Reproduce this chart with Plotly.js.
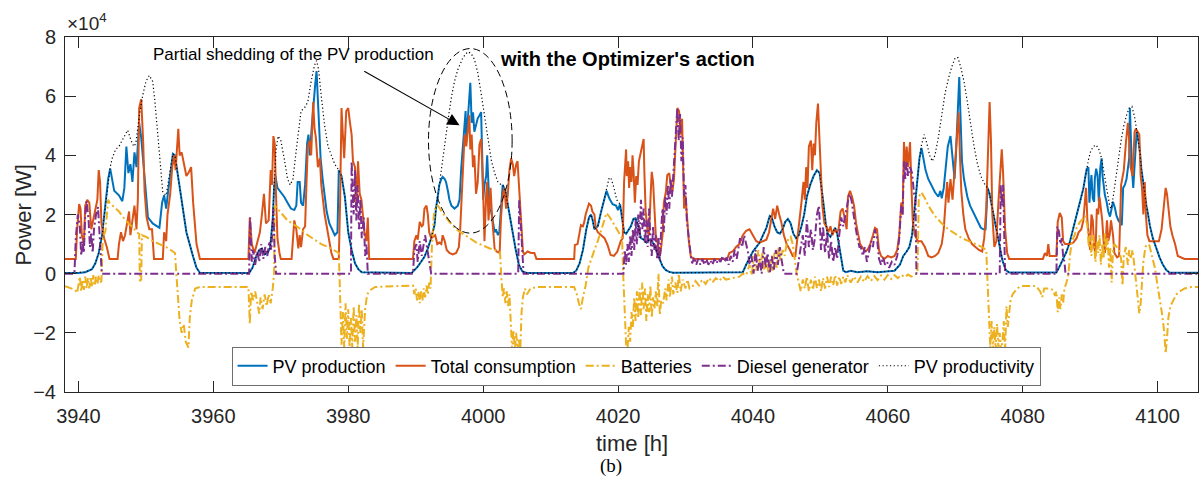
<!DOCTYPE html>
<html><head><meta charset="utf-8">
<script src="https://cdn.plot.ly/plotly-3.0.1.min.js"></script>
<style>html,body{margin:0;padding:0;background:#fff}#chart{width:1200px;height:477px}</style>
</head><body><div id="chart"></div>
<script>
// values: [time (h), power (x10^4 W)]
const pvProduction = [[3938,0.02],[3940,0.02],[3941,0.05],[3942,0.15],[3942.5,0.35],[3943,0.7],[3943.5,1.3],[3944,2.3],[3944.4,3.2],[3944.7,3.55],[3945,3.2],[3945.3,2.8],[3946,2.65],[3946.5,2.45],[3946.8,2.9],[3947.1,4.3],[3947.4,3.4],[3947.7,3.7],[3948,3.1],[3948.3,4.1],[3948.6,3.6],[3949,5.1],[3949.3,4.6],[3949.6,3.9],[3949.9,3.0],[3950.3,1.9],[3951,1.7],[3952,1.55],[3952.4,2.4],[3952.7,2.65],[3953,2.2],[3953.3,2.8],[3953.7,3.6],[3954,4.05],[3954.3,4.0],[3954.8,3.2],[3955.2,2.5],[3956,1.4],[3957,0.57],[3957.5,0.2],[3958,0.03],[3965.3,0.02],[3965.8,0.2],[3966.3,0.55],[3966.8,0.8],[3967.2,0.85],[3967.6,0.65],[3968,0.7],[3968.4,0.85],[3968.8,1.8],[3969,2.9],[3969.2,3.3],[3969.5,2.9],[3970,2.75],[3970.5,2.6],[3971,2.4],[3971.5,2.2],[3972,2.15],[3972.3,2.3],[3972.5,3.1],[3972.8,3.1],[3973,2.4],[3973.3,2.3],[3973.6,3.0],[3973.9,4.4],[3974.1,4.7],[3974.3,4.0],[3974.6,5.0],[3974.9,6.0],[3975.1,6.4],[3975.3,6.85],[3975.5,5.8],[3975.7,4.4],[3975.9,3.9],[3976.2,3.2],[3976.5,2.7],[3976.8,2.1],[3977.2,1.7],[3977.6,1.5],[3978,1.3],[3978.4,1.4],[3978.6,3.5],[3979,3.3],[3979.5,2.6],[3980,1.4],[3980.5,0.8],[3981,0.35],[3981.5,0.15],[3982,0.05],[3989.4,0.02],[3990.3,0.24],[3990.8,0.4],[3991.3,0.57],[3991.8,0.85],[3992.3,1.2],[3992.8,1.65],[3993,2.2],[3993.3,2.65],[3993.5,3.0],[3993.8,3.2],[3994,3.27],[3994.3,3.2],[3994.5,3.1],[3994.8,2.77],[3995,2.5],[3995.3,2.3],[3995.75,2.2],[3996.25,2.3],[3996.5,2.5],[3996.75,3.55],[3997,4.2],[3997.2,4.7],[3997.4,5.5],[3997.5,4.45],[3997.7,5.25],[3997.9,5.8],[3998.1,6.45],[3998.3,5.1],[3998.5,5.45],[3998.7,4.8],[3998.95,5.0],[3999.2,5.25],[3999.45,5.35],[3999.7,5.46],[3999.85,4.1],[4000,2.5],[4000.2,3.0],[4000.45,3.3],[4000.6,4.0],[4000.8,3.1],[4000.95,2.2],[4001.2,2.1],[4001.4,1.75],[4001.7,1.4],[4001.9,1.5],[4002.2,1.3],[4002.4,1.4],[4002.7,2.3],[4002.9,3.0],[4003.3,2.8],[4003.8,2.2],[4004.3,1.5],[4004.8,0.85],[4005.3,0.3],[4005.8,0.08],[4006.5,0.02],[4013.3,0.02],[4013.8,0.1],[4014.3,0.35],[4014.8,0.8],[4015.3,1.5],[4015.7,1.9],[4016,2.0],[4016.25,1.8],[4016.5,1.5],[4017,1.6],[4017.5,2.1],[4018,2.6],[4018.3,2.8],[4018.7,2.55],[4019.2,2.35],[4019.7,2.3],[4020,2.15],[4020.3,2.35],[4020.6,1.9],[4020.9,1.4],[4021.2,1.35],[4021.5,1.45],[4021.9,1.6],[4022.3,1.85],[4022.6,1.87],[4023,1.6],[4023.4,1.2],[4023.8,1.15],[4024.2,1.05],[4024.6,1.15],[4025,1.1],[4025.4,0.95],[4025.8,0.7],[4026.2,0.45],[4026.6,0.25],[4027.1,0.12],[4027.6,0.06],[4028.2,0.03],[4038.5,0.05],[4039,0.3],[4039.5,0.55],[4040,0.75],[4040.5,0.9],[4041,1.05],[4041.5,1.3],[4042,1.55],[4042.5,1.95],[4042.8,1.9],[4043.2,1.6],[4043.6,1.4],[4044,1.35],[4044.4,1.5],[4044.8,1.75],[4045.2,1.85],[4045.6,1.7],[4046,1.35],[4046.4,1.2],[4046.8,1.3],[4047.2,1.6],[4047.6,2.0],[4048,2.6],[4048.5,3.0],[4049,3.3],[4049.5,3.5],[4049.9,3.4],[4050.2,2.9],[4050.5,2.3],[4050.8,1.7],[4051.1,1.35],[4051.5,1.25],[4051.9,1.45],[4052.2,1.55],[4052.5,1.35],[4052.8,0.9],[4053.1,0.4],[4053.4,0.1],[4053.8,0.05],[4054.5,0.1],[4055.5,0.05],[4057,0.08],[4058.5,0.05],[4060,0.08],[4061,0.1],[4061.8,0.3],[4062.3,0.6],[4062.8,0.75],[4063.2,0.9],[4063.6,1.3],[4063.9,2.0],[4064.1,2.7],[4064.4,3.3],[4064.7,3.9],[4065,4.25],[4065.3,3.8],[4065.6,3.5],[4066,3.2],[4066.5,2.95],[4067,2.75],[4067.5,2.6],[4067.8,2.8],[4068,2.55],[4068.3,2.9],[4068.6,3.6],[4068.9,4.3],[4069.3,4.65],[4069.6,3.9],[4069.9,3.2],[4070.1,4.0],[4070.4,5.6],[4070.6,6.65],[4070.8,5.2],[4071,3.8],[4071.3,3.2],[4071.8,2.6],[4072.2,2.3],[4072.6,2.1],[4073,1.9],[4073.4,1.7],[4073.8,1.55],[4074.2,1.5],[4074.5,1.5],[4074.8,2.9],[4075.1,2.7],[4075.5,2.2],[4076,1.6],[4076.5,1.0],[4077,0.45],[4077.5,0.12],[4078,0.04],[4085,0.04],[4085.3,0.15],[4085.6,0.3],[4086,0.5],[4086.5,0.74],[4087,1.08],[4087.5,1.53],[4088,1.97],[4088.5,2.43],[4089,2.88],[4089.25,3.22],[4089.5,3.55],[4089.75,3.6],[4089.9,2.4],[4090,2.77],[4090.2,3.33],[4090.4,2.55],[4090.6,2.43],[4090.7,3.2],[4090.9,3.55],[4091.1,3.33],[4091.3,2.43],[4091.5,3.55],[4091.7,3.9],[4091.85,3.3],[4092.05,2.9],[4092.2,2.65],[4092.45,2.43],[4092.7,2.1],[4092.95,1.93],[4093.2,2.2],[4093.4,2.43],[4093.7,2.2],[4093.9,1.97],[4094.2,1.8],[4094.4,1.75],[4094.7,1.64],[4094.9,2.9],[4095.15,3.0],[4095.4,3.2],[4095.6,3.65],[4095.8,3.9],[4095.9,5.6],[4096,4.9],[4096.2,3.55],[4096.4,2.9],[4096.6,3.55],[4096.9,4.8],[4097.1,4.6],[4097.4,4.1],[4097.6,3.55],[4097.85,3.1],[4098.1,2.65],[4098.35,2.3],[4098.6,2.0],[4098.85,1.64],[4099.3,1.2],[4099.8,0.85],[4100.3,0.55],[4100.8,0.3],[4101.3,0.12],[4101.8,0.03],[4106,0.03]];

const totalConsumption = [[3938,0.5],[3939.6,0.5],[3939.8,1.5],[3940.1,2.35],[3940.3,2.2],[3940.5,1.3],[3940.8,1.0],[3941,2.3],[3941.3,2.5],[3941.6,2.4],[3941.9,1.5],[3942.2,1.8],[3942.5,2.2],[3942.8,2.5],[3943,3.5],[3943.2,3.1],[3943.4,1.7],[3943.8,1.2],[3944.2,0.9],[3944.6,0.5],[3945.8,0.5],[3946,1.0],[3946.3,1.4],[3946.6,1.1],[3946.9,1.3],[3947.2,1.7],[3947.5,2.1],[3947.7,1.3],[3948,1.8],[3948.3,2.3],[3948.6,1.5],[3948.8,2.5],[3949,5.6],[3949.3,5.9],[3949.6,4.4],[3949.8,2.8],[3950.1,1.9],[3950.5,1.5],[3950.9,1.5],[3951.2,0.5],[3952.5,0.5],[3952.7,1.4],[3953,1.1],[3953.2,2.0],[3953.6,2.7],[3953.9,3.6],[3954.2,4.0],[3954.4,3.5],[3954.8,4.9],[3955,4.0],[3955.3,4.1],[3955.7,3.7],[3956,3.3],[3956.3,3.4],[3956.7,3.6],[3957,2.4],[3957.5,1.0],[3958,0.5],[3965.2,0.5],[3965.4,1.9],[3965.7,1.0],[3966.1,0.7],[3966.5,1.1],[3966.9,1.4],[3967.2,2.0],[3967.5,2.7],[3967.8,1.7],[3968.2,1.8],[3968.5,3.5],[3968.7,3.0],[3968.9,4.65],[3969.1,4.4],[3969.3,2.6],[3969.5,1.2],[3969.8,0.7],[3970,0.5],[3971.6,0.5],[3971.8,1.3],[3972,1.8],[3972.3,1.5],[3972.6,0.85],[3972.8,1.3],[3973,0.9],[3973.3,1.5],[3973.6,1.6],[3973.8,3.0],[3974,4.3],[3974.3,4.5],[3974.5,4.0],[3974.8,5.8],[3975,4.9],[3975.2,4.6],[3975.5,3.6],[3975.8,3.9],[3976,3.0],[3976.5,2.0],[3977,1.4],[3977.5,0.7],[3977.8,0.5],[3978.6,0.5],[3978.8,2.5],[3979,5.6],[3979.2,4.7],[3979.4,3.9],[3979.7,5.5],[3980,5.6],[3980.2,5.2],[3980.5,4.7],[3980.7,3.8],[3981,3.6],[3981.2,2.3],[3981.45,3.8],[3981.7,2.7],[3981.95,2.5],[3982.2,1.9],[3982.4,1.4],[3982.7,1.1],[3982.9,1.9],[3983.1,0.5],[3989.6,0.5],[3989.8,1.1],[3990.1,1.3],[3990.3,1.15],[3990.6,1.75],[3990.9,1.6],[3991.1,1.65],[3991.3,2.2],[3991.6,2.3],[3991.8,2.0],[3992,1.4],[3992.3,1.2],[3992.6,1.25],[3992.9,1.3],[3993.2,1.0],[3993.5,1.05],[3993.8,1.0],[3994,1.3],[3994.3,1.1],[3994.6,0.8],[3995,0.7],[3995.5,0.65],[3996,0.7],[3996.4,0.9],[3996.6,1.5],[3996.85,2.9],[3997,3.8],[3997.25,4.7],[3997.5,4.3],[3997.7,4.8],[3997.95,5.35],[3998.1,4.2],[3998.3,4.7],[3998.5,3.6],[3998.7,4.0],[3998.95,2.7],[3999.2,3.1],[3999.45,4.35],[3999.7,4.55],[3999.95,3.2],[4000.2,1.1],[4000.45,2.7],[4000.6,3.1],[4000.8,1.8],[4001.1,2.9],[4001.3,2.0],[4001.45,1.6],[4001.7,0.85],[4002,0.75],[4002.45,0.7],[4002.65,1.9],[4002.9,2.65],[4003.15,2.9],[4003.4,2.2],[4003.65,2.65],[4003.9,3.5],[4004.15,3.9],[4004.4,3.7],[4004.6,3.3],[4004.9,3.7],[4005.1,3.8],[4005.35,3.0],[4005.6,1.9],[4005.9,0.75],[4006.1,0.65],[4006.6,0.75],[4007.1,0.7],[4007.6,0.7],[4007.9,0.5],[4013.5,0.5],[4013.6,0.97],[4014,1.0],[4014.25,1.3],[4014.5,1.64],[4014.8,1.6],[4015,1.75],[4015.2,2.0],[4015.5,2.26],[4015.7,2.37],[4016,2.3],[4016.2,2.1],[4016.5,2.0],[4016.7,1.55],[4017,1.4],[4017.5,1.3],[4018,1.2],[4018.45,0.97],[4018.9,0.63],[4019.4,0.6],[4019.9,0.75],[4020.4,1.1],[4020.7,1.2],[4020.9,3.1],[4021.2,4.2],[4021.3,3.3],[4021.5,3.8],[4021.65,2.9],[4021.8,3.6],[4022,3.1],[4022.15,4.0],[4022.3,3.5],[4022.5,2.4],[4022.7,3.3],[4022.9,3.0],[4023.1,3.8],[4023.4,4.1],[4023.6,4.35],[4023.8,4.55],[4023.9,3.5],[4024.1,2.1],[4024.4,1.4],[4024.6,1.3],[4024.86,2.77],[4025,3.44],[4025.2,3.1],[4025.35,2.2],[4025.6,1.3],[4025.85,1.08],[4026.1,0.63],[4026.3,0.7],[4026.6,1.3],[4026.8,2.4],[4027.1,2.77],[4027.3,3.33],[4027.6,3.4],[4027.8,3.0],[4028.06,2.77],[4028.3,3.2],[4028.5,4.1],[4028.8,5.6],[4029.05,5.5],[4029.3,4.7],[4029.5,5.24],[4029.7,3.0],[4029.8,2.2],[4030,2.65],[4030.3,1.75],[4030.5,1.1],[4030.8,0.57],[4031.3,0.5],[4036.2,0.5],[4036.5,0.7],[4037,0.75],[4037.5,0.9],[4038,1.0],[4038.5,1.3],[4039,1.45],[4039.5,1.5],[4040,1.3],[4040.5,1.1],[4041,1.05],[4041.5,1.1],[4042,1.15],[4042.4,1.4],[4042.7,1.8],[4043,2.2],[4043.3,1.85],[4043.6,2.3],[4043.9,2.0],[4044.2,1.75],[4044.6,1.3],[4045,1.0],[4045.5,0.8],[4045.9,0.6],[4046.3,0.6],[4046.6,1.3],[4046.9,1.8],[4047.2,2.4],[4047.5,3.1],[4047.7,2.5],[4047.9,3.6],[4048.1,2.9],[4048.3,4.3],[4048.6,4.5],[4048.8,3.5],[4049,4.4],[4049.2,4.0],[4049.4,5.1],[4049.65,5.75],[4049.9,4.4],[4050.1,3.1],[4050.3,2.3],[4050.6,1.7],[4050.9,1.6],[4051.2,1.4],[4051.5,1.6],[4051.8,1.3],[4052.1,1.5],[4052.4,1.4],[4052.7,1.5],[4053,2.1],[4053.3,2.2],[4053.6,1.9],[4053.9,1.5],[4054.1,2.6],[4054.4,2.8],[4054.7,2.6],[4055,2.3],[4055.3,1.7],[4055.6,1.3],[4055.9,1.0],[4056.2,0.9],[4056.6,0.75],[4057,0.8],[4057.4,1.0],[4057.8,1.3],[4058.1,1.55],[4058.4,1.5],[4058.7,0.8],[4059,0.6],[4059.5,0.5],[4060,0.6],[4060.5,0.55],[4061,0.6],[4061.4,0.8],[4061.7,1.3],[4062,2.4],[4062.2,2.0],[4062.4,4.45],[4062.6,3.5],[4062.8,4.3],[4063,3.6],[4063.3,4.45],[4063.5,3.0],[4063.7,1.8],[4064,1.3],[4064.5,1.1],[4065,1.1],[4065.5,0.9],[4066,0.6],[4066.5,0.55],[4067,0.6],[4067.5,0.7],[4068,1.0],[4068.3,1.5],[4068.6,2.5],[4068.8,3.1],[4069,2.4],[4069.3,3.2],[4069.6,2.5],[4069.9,3.5],[4070.2,4.2],[4070.5,5.45],[4070.7,4.0],[4070.9,2.8],[4071.2,2.0],[4071.5,1.5],[4072,1.2],[4072.5,1.0],[4073,0.9],[4073.5,0.8],[4074,0.75],[4074.3,1.2],[4074.6,2.2],[4074.8,3.5],[4075.1,5.8],[4075.3,4.5],[4075.5,2.0],[4075.8,0.9],[4076.1,1.1],[4076.4,2.4],[4076.7,3.6],[4076.9,4.2],[4077.1,3.4],[4077.4,1.5],[4077.7,0.7],[4078,0.5],[4083,0.5],[4083.3,0.7],[4083.6,0.6],[4083.8,1.0],[4084,0.6],[4085,0.6],[4085.2,1.75],[4085.5,2.05],[4085.8,1.9],[4086,1.1],[4086.3,1.0],[4087,1.0],[4087.5,1.05],[4088,1.2],[4088.3,1.4],[4088.7,1.5],[4089,1.8],[4089.2,2.5],[4089.4,2.9],[4089.6,1.8],[4089.8,1.2],[4090,0.8],[4090.2,2.0],[4090.4,1.8],[4090.6,0.9],[4090.8,0.7],[4091,2.2],[4091.2,2.0],[4091.4,2.6],[4091.6,2.2],[4091.8,1.8],[4092,1.1],[4092.2,0.7],[4092.5,1.8],[4092.7,1.1],[4092.9,1.3],[4093.1,1.8],[4093.4,1.3],[4093.6,0.7],[4094,0.55],[4094.3,0.6],[4094.6,3.0],[4094.8,3.3],[4095,3.5],[4095.3,4.4],[4095.6,5.1],[4095.8,4.5],[4096,3.6],[4096.3,3.3],[4096.6,4.8],[4096.8,4.9],[4097.1,4.8],[4097.3,4.7],[4097.5,3.3],[4097.7,2.9],[4097.9,2.0],[4098.1,3.1],[4098.3,1.9],[4098.5,1.3],[4098.8,1.1],[4099.5,1.1],[4100.2,1.1],[4100.6,1.5],[4100.9,2.2],[4101.2,2.9],[4101.4,2.7],[4101.6,2.2],[4101.9,1.6],[4102.2,1.3],[4102.6,1.0],[4103,0.6],[4103.5,0.55],[4104,0.5],[4106,0.5]];

const batteries = [[3938,-0.42],[3939.5,-0.55],[3939.8,-0.65],[3940,-0.4],[3940.2,-0.1],[3940.4,-0.6],[3940.6,-0.2],[3940.8,-0.55],[3941,-0.1],[3941.2,-0.5],[3941.4,-0.15],[3941.6,-0.5],[3941.8,-0.1],[3942,-0.45],[3942.2,-0.05],[3942.4,-0.4],[3942.6,-0.1],[3942.8,-0.35],[3943,-0.05],[3943.2,-0.3],[3943.4,-0.25],[3943.6,1.2],[3944,1.45],[3944.4,2.5],[3944.6,2.4],[3946,2.1],[3947,1.8],[3948.3,1.5],[3948.6,1.4],[3949,1.35],[3949.1,-0.25],[3949.3,-0.2],[3949.4,1.3],[3950,1.25],[3951,1.1],[3952,1.0],[3953,0.9],[3954,0.75],[3954.3,0.7],[3954.6,-0.3],[3955,-1.6],[3955.3,-2.0],[3955.6,-1.7],[3955.9,-2.3],[3956.3,-2.5],[3956.5,-1.5],[3956.8,-0.9],[3957.3,-0.5],[3958,-0.45],[3965.2,-0.45],[3965.4,-1.7],[3965.6,-0.6],[3965.9,-0.9],[3966.2,-0.6],[3966.5,-1.0],[3966.8,-1.35],[3967,-0.8],[3967.3,-1.2],[3967.6,-0.7],[3967.9,-1.1],[3968.2,-0.7],[3968.5,-1.0],[3968.8,-0.5],[3969,0.0],[3969.1,2.3],[3969.5,2.2],[3970,2.05],[3971,1.8],[3972,1.65],[3973,1.5],[3974,1.3],[3975,1.15],[3976,1.0],[3977,0.9],[3978,0.78],[3978.6,0.7],[3978.8,-0.8],[3979,-2.4],[3979.2,-1.3],[3979.4,-2.5],[3979.6,-1.0],[3979.8,-2.2],[3980,-1.2],[3980.2,-2.5],[3980.4,-1.5],[3980.6,-2.5],[3980.8,-1.1],[3981,-2.3],[3981.2,-1.4],[3981.4,-2.5],[3981.6,-1.0],[3981.8,-2.0],[3982,-1.2],[3982.2,-2.5],[3982.5,-1.2],[3982.8,-0.7],[3983.3,-0.55],[3984,-0.45],[3989.6,-0.4],[3989.8,-0.7],[3990,-0.5],[3990.2,-0.9],[3990.4,-0.6],[3990.6,-1.0],[3990.8,-0.6],[3991,-0.9],[3991.2,-0.5],[3991.4,-0.8],[3991.6,-0.4],[3991.8,-0.7],[3992,-0.3],[3992.2,-0.5],[3992.4,0.9],[3992.7,2.0],[3993,2.3],[3993.3,2.3],[3994,2.05],[3995,1.75],[3996,1.5],[3997,1.35],[3998,1.2],[3999,1.05],[4000,0.95],[4001,0.85],[4002,0.78],[4002.5,0.72],[4002.7,-0.1],[4002.9,-0.8],[4003.1,-0.5],[4003.3,-1.0],[4003.5,-0.6],[4003.7,-1.1],[4003.9,-0.7],[4004.1,-2.0],[4004.3,-2.6],[4004.5,-1.9],[4004.7,-2.6],[4004.9,-2.0],[4005.1,-2.6],[4005.3,-2.2],[4005.5,-2.65],[4005.7,-1.3],[4005.9,-0.8],[4006.2,-0.5],[4006.5,-0.7],[4007,-0.5],[4008,-0.45],[4013.5,-0.45],[4013.9,-0.7],[4014.2,-1.0],[4014.5,-1.2],[4014.8,-0.8],[4015.2,-0.4],[4015.6,0.2],[4016,0.5],[4016.5,0.8],[4017,1.1],[4017.5,1.5],[4018,1.9],[4018.3,2.05],[4018.8,1.9],[4019.3,1.7],[4019.8,1.5],[4020.3,1.3],[4020.6,1.2],[4020.8,-0.2],[4021,-1.5],[4021.2,-2.4],[4021.4,-2.6],[4021.6,-1.8],[4021.8,-2.3],[4022,-1.3],[4022.2,-1.8],[4022.4,-0.8],[4022.6,-1.6],[4022.8,-0.6],[4023,-1.5],[4023.2,-0.5],[4023.4,-1.4],[4023.6,-0.3],[4023.8,-1.2],[4024,-0.5],[4024.2,-1.6],[4024.4,-0.7],[4024.6,-1.3],[4024.8,-0.4],[4025,-1.5],[4025.2,-0.8],[4025.4,-1.2],[4025.6,-0.6],[4025.8,-1.1],[4026,0.0],[4026.2,-1.4],[4026.4,-0.9],[4026.7,-1.0],[4027,-0.5],[4027.2,-0.9],[4027.5,-0.2],[4027.7,-0.8],[4028,-0.1],[4028.2,-0.7],[4028.5,-0.3],[4028.8,-0.65],[4029,0.0],[4029.3,-0.6],[4029.6,-0.2],[4030,-0.5],[4030.3,-0.2],[4030.6,-0.5],[4031,-0.45],[4031.5,-0.25],[4032,-0.4],[4032.5,-0.2],[4033,-0.35],[4033.5,-0.15],[4034,-0.3],[4034.5,-0.15],[4035,-0.25],[4035.5,-0.1],[4036,-0.2],[4037,-0.15],[4038,-0.1],[4038.5,0.0],[4039,-0.05],[4039.5,0.3],[4039.8,-0.05],[4040.2,0.6],[4040.5,0.1],[4040.8,0.8],[4041.1,0.2],[4041.4,0.7],[4041.7,0.1],[4042,0.6],[4042.3,0.0],[4042.6,0.5],[4042.9,0.1],[4043.2,0.7],[4043.5,0.2],[4043.8,0.9],[4044.1,0.4],[4044.4,0.8],[4044.7,0.6],[4045,1.0],[4045.3,1.2],[4045.6,1.25],[4045.9,1.0],[4046.2,0.5],[4046.5,0.0],[4046.8,-0.3],[4047.1,-0.6],[4047.4,-0.2],[4047.7,-0.5],[4048,-0.1],[4048.3,-0.6],[4048.6,-0.2],[4048.9,-0.55],[4049.2,-0.1],[4049.5,-0.5],[4049.8,-0.2],[4050.1,-0.6],[4050.4,-0.15],[4050.7,-0.5],[4051,-0.1],[4051.3,-0.45],[4051.6,-0.1],[4051.9,-0.4],[4052.2,-0.05],[4052.5,-0.4],[4052.8,-0.1],[4053.1,-0.35],[4053.4,-0.1],[4053.7,-0.3],[4054,-0.05],[4054.5,-0.3],[4055,-0.1],[4055.5,-0.3],[4056,-0.1],[4056.5,-0.28],[4057,-0.08],[4057.5,-0.25],[4058,-0.08],[4058.5,-0.22],[4059,-0.06],[4059.5,-0.2],[4060,-0.05],[4060.5,-0.18],[4061,-0.05],[4061.5,-0.15],[4062,-0.04],[4062.5,-0.12],[4063,-0.03],[4063.5,-0.1],[4064,-0.03],[4064.4,0.0],[4064.6,2.6],[4065,2.75],[4065.5,2.55],[4066,2.3],[4067,1.95],[4068,1.7],[4069,1.5],[4070,1.35],[4071,1.2],[4072,1.1],[4073,1.0],[4074,0.9],[4074.6,0.8],[4074.8,-0.5],[4075,-1.5],[4075.2,-2.5],[4075.4,-1.6],[4075.6,-2.6],[4075.8,-1.8],[4076,-2.6],[4076.2,-1.7],[4076.4,-2.5],[4076.6,-2.0],[4076.8,-2.6],[4077,-2.3],[4077.2,-1.6],[4077.4,-2.6],[4077.6,-1.1],[4077.8,-1.8],[4078,-1.2],[4078.2,-0.9],[4078.5,-0.7],[4079,-0.55],[4079.5,-0.45],[4080,-0.42],[4082,-0.42],[4082.6,-0.6],[4082.9,-0.8],[4083.2,-0.5],[4084,-0.5],[4084.5,-0.55],[4084.8,-0.75],[4085,-0.6],[4085.2,-1.3],[4085.4,-0.8],[4085.6,-1.2],[4085.8,-0.7],[4086,-1.0],[4086.2,-0.5],[4086.5,-0.3],[4086.8,0.0],[4087,0.6],[4087.3,1.1],[4087.7,1.3],[4088,1.55],[4088.5,1.75],[4089,1.9],[4089.3,1.95],[4089.6,1.6],[4089.8,0.9],[4090,1.3],[4090.2,0.6],[4090.4,1.3],[4090.6,1.0],[4090.8,0.4],[4091,1.1],[4091.2,0.7],[4091.4,1.3],[4091.6,0.3],[4091.8,1.0],[4092,0.5],[4092.2,1.4],[4092.4,0.8],[4092.6,1.2],[4092.8,0.2],[4093,0.9],[4093.2,-0.3],[4093.4,0.8],[4093.6,1.0],[4094,0.9],[4094.3,0.8],[4094.6,0.5],[4094.8,-0.4],[4095,0.6],[4095.3,0.9],[4095.6,0.3],[4095.8,0.8],[4096,0.5],[4096.3,0.8],[4096.6,0.2],[4096.9,-0.5],[4097.1,-0.9],[4097.3,-1.35],[4097.5,-1.0],[4097.7,-0.3],[4097.9,0.4],[4098.2,0.9],[4098.5,1.0],[4098.8,0.95],[4099.2,0.6],[4099.6,0.2],[4100,-0.4],[4100.4,-0.9],[4100.7,-1.4],[4101,-2.0],[4101.2,-2.7],[4101.4,-2.2],[4101.6,-1.5],[4101.9,-1.1],[4102.3,-0.9],[4102.8,-0.7],[4103.3,-0.6],[4104,-0.5],[4105,-0.45],[4106,-0.45]];

const dieselGenerator = [[3938,0],[3939.4,0],[3939.6,1.2],[3939.9,2.0],[3940.2,1.6],[3940.4,0.6],[3940.6,1.1],[3940.8,0.7],[3941,2.0],[3941.2,2.45],[3941.5,1.8],[3941.7,0.9],[3941.9,1.4],[3942.1,0.7],[3942.3,1.5],[3942.6,2.0],[3942.9,2.25],[3943.1,1.4],[3943.3,0.6],[3943.45,0],[3965.3,0],[3965.45,1.9],[3965.7,0.4],[3965.9,0.8],[3966.2,0.3],[3966.5,0.75],[3966.8,0.4],[3967.1,1.0],[3967.4,0.5],[3967.7,0.9],[3968,0.6],[3968.3,1.1],[3968.6,0.8],[3968.9,2.2],[3969.1,0.6],[3969.3,0],[3980.4,0],[3980.5,3.8],[3980.8,2.0],[3981,3.5],[3981.2,1.8],[3981.4,3.0],[3981.6,1.5],[3981.8,2.5],[3982,1.2],[3982.3,1.9],[3982.5,0.6],[3982.7,1.0],[3982.9,0],[3989.6,0],[3989.8,0.8],[3990.1,1.0],[3990.3,0.4],[3990.6,1.1],[3990.9,0.6],[3991.1,0.9],[3991.4,1.3],[3991.6,1.0],[3991.9,0.6],[3992.1,0.3],[3992.3,0],[4005.2,0],[4005.35,2.5],[4005.6,1.6],[4005.8,0.7],[4006,0],[4020.8,0],[4021,0.8],[4021.2,0.3],[4021.4,1.0],[4021.6,0.4],[4021.8,1.3],[4022,0.6],[4022.2,1.5],[4022.4,0.8],[4022.6,1.8],[4022.8,1.0],[4023,2.0],[4023.2,1.2],[4023.4,2.5],[4023.6,1.5],[4023.8,2.2],[4024,1.0],[4024.2,1.8],[4024.4,0.9],[4024.6,2.2],[4024.8,1.2],[4025,0.6],[4025.2,1.6],[4025.4,0.8],[4025.6,1.3],[4025.8,0.5],[4026,1.2],[4026.2,0.4],[4026.4,1.5],[4026.6,2.2],[4026.8,1.4],[4027,2.6],[4027.2,2.0],[4027.4,3.0],[4027.6,2.2],[4027.8,3.2],[4028,2.6],[4028.2,3.4],[4028.4,4.1],[4028.6,4.8],[4028.8,5.6],[4029,4.5],[4029.2,5.4],[4029.4,3.8],[4029.6,4.6],[4029.8,2.6],[4030,3.0],[4030.2,1.8],[4030.4,1.4],[4030.6,0.9],[4030.8,0.6],[4031,0.35],[4031.3,0.55],[4031.6,0.3],[4031.9,0.5],[4032.2,0.3],[4032.5,0.5],[4032.8,0.3],[4033.1,0.5],[4033.4,0.3],[4033.7,0.45],[4034,0.3],[4034.3,0.5],[4034.6,0.35],[4034.9,0.5],[4035.2,0.4],[4035.5,0.6],[4035.8,0.4],[4036.1,0.55],[4036.4,0.3],[4036.7,0.6],[4037,0.4],[4037.3,0.8],[4037.6,0.5],[4037.9,0.9],[4038.1,1.2],[4038.4,0.9],[4038.7,1.3],[4039,1.0],[4039.3,0.7],[4039.5,0.3],[4039.8,0.6],[4040.1,0],[4040.4,0.8],[4040.7,0.1],[4041,0.5],[4041.3,0],[4041.6,0.9],[4041.9,0.2],[4042.2,0.7],[4042.5,0],[4042.8,0.6],[4043.1,0.1],[4043.4,0.8],[4043.7,0.3],[4044,0.9],[4044.3,0.4],[4044.6,0],[4046.5,0],[4046.8,0.5],[4047.1,0.9],[4047.4,1.3],[4047.7,0.6],[4048,1.8],[4048.3,0.9],[4048.6,1.5],[4048.9,0.8],[4049.2,1.2],[4049.5,2.0],[4049.8,2.3],[4050.1,0.8],[4050.4,1.6],[4050.7,0.7],[4051,1.4],[4051.3,0.5],[4051.6,1.1],[4051.9,0.4],[4052.2,0.9],[4052.5,0.5],[4052.8,1.3],[4053.1,1.9],[4053.4,1.6],[4053.7,2.0],[4054,2.4],[4054.3,2.7],[4054.6,2.5],[4054.9,2.0],[4055.2,1.6],[4055.5,1.2],[4055.8,0.9],[4056,0.9],[4056.3,0.6],[4056.6,0.9],[4056.9,0.4],[4057.2,0.7],[4057.5,1.1],[4057.8,0.9],[4058.1,1.5],[4058.4,1.2],[4058.7,0.5],[4059,0.3],[4059.3,0.55],[4059.6,0.3],[4059.9,0.4],[4060.2,0.2],[4060.6,0.4],[4061,0.3],[4061.4,0.6],[4061.7,1.2],[4062,2.3],[4062.2,2.0],[4062.4,3.8],[4062.6,3.2],[4062.8,3.8],[4063,3.3],[4063.3,3.6],[4063.6,3.4],[4063.9,2.7],[4064.1,2.6],[4064.25,0],[4076.6,0],[4076.75,3.0],[4076.9,2.3],[4077.1,3.0],[4077.3,1.0],[4077.4,0],[4085,0],[4085.15,1.6],[4085.4,1.4],[4085.6,1.0],[4085.8,1.2],[4086,0.6],[4086.2,0.4],[4086.35,0],[4106,0]];

const pvProductivity = [[3938,0.02],[3941,0.05],[3942,0.15],[3942.5,0.35],[3943,0.7],[3943.5,1.3],[3944,2.3],[3944.4,3.15],[3944.7,3.6],[3945,3.9],[3945.5,4.2],[3946,4.3],[3946.5,4.5],[3947,4.75],[3947.3,4.85],[3947.8,4.5],[3948.2,4.3],[3948.5,4.4],[3949,5.3],[3949.5,6.0],[3950,6.5],[3950.5,6.7],[3951,6.5],[3951.3,5.9],[3951.7,4.8],[3952.1,3.6],[3952.5,2.75],[3953,2.65],[3953.5,3.4],[3954,4.05],[3954.3,4.0],[3954.8,3.2],[3955.2,2.5],[3956,1.4],[3957,0.57],[3957.5,0.2],[3958,0.03],[3965.3,0.02],[3965.8,0.2],[3966.3,0.55],[3966.8,0.8],[3967.2,0.85],[3967.6,0.65],[3968,0.7],[3968.4,0.85],[3968.8,1.8],[3969,3.0],[3969.3,4.2],[3969.6,4.65],[3970,4.5],[3970.5,3.9],[3971,3.2],[3971.4,3.0],[3971.8,3.2],[3972.2,4.0],[3972.6,4.8],[3973,5.5],[3973.5,5.6],[3974,5.8],[3974.5,6.5],[3975,7.05],[3975.3,7.2],[3975.6,6.9],[3976,6.0],[3976.5,5.0],[3977,4.3],[3977.5,4.0],[3978,3.7],[3978.6,3.5],[3979,3.3],[3979.5,2.6],[3980,1.4],[3980.5,0.8],[3981,0.35],[3981.5,0.15],[3982,0.05],[3989.4,0.02],[3990.3,0.24],[3990.8,0.4],[3991.3,0.57],[3991.8,0.85],[3992.3,1.2],[3992.8,1.65],[3993,2.2],[3993.3,2.65],[3993.5,3.0],[3993.8,3.55],[3994,3.9],[3994.3,4.3],[3994.8,5.2],[3995.25,5.9],[3995.75,6.5],[3996.25,6.9],[3997,7.3],[3997.7,7.5],[3998.2,7.45],[3998.7,7.25],[3999.2,6.8],[3999.7,6.1],[4000.2,5.3],[4000.7,4.5],[4001.2,3.85],[4001.7,3.4],[4002.2,3.1],[4002.7,3.0],[4002.9,3.0],[4003.3,2.8],[4003.8,2.2],[4004.3,1.5],[4004.8,0.85],[4005.3,0.3],[4005.8,0.08],[4006.5,0.02],[4013.3,0.02],[4013.8,0.1],[4014.3,0.35],[4014.8,0.8],[4015.3,1.5],[4015.7,1.9],[4016,2.0],[4016.25,1.8],[4016.5,1.5],[4017,1.6],[4017.5,2.1],[4018,2.6],[4018.3,2.95],[4018.7,3.25],[4019,3.2],[4019.4,2.9],[4019.8,2.5],[4020.3,2.35],[4020.6,1.9],[4020.9,1.4],[4021.2,1.35],[4021.5,1.45],[4021.9,1.6],[4022.3,1.85],[4022.6,1.87],[4023,1.6],[4023.4,1.2],[4023.8,1.15],[4024.2,1.05],[4024.6,1.15],[4025,1.1],[4025.4,0.95],[4025.8,0.7],[4026.2,0.45],[4026.6,0.25],[4027.1,0.12],[4027.6,0.06],[4028.2,0.03],[4038.5,0.05],[4039,0.3],[4039.5,0.55],[4040,0.75],[4040.5,0.9],[4041,1.05],[4041.5,1.3],[4042,1.55],[4042.5,1.95],[4042.8,1.9],[4043.2,1.6],[4043.6,1.4],[4044,1.35],[4044.4,1.5],[4044.8,1.75],[4045.2,1.85],[4045.6,1.7],[4046,1.35],[4046.4,1.2],[4046.8,1.3],[4047.2,1.6],[4047.6,2.0],[4048,2.6],[4048.5,3.0],[4049,3.3],[4049.5,3.5],[4049.9,3.4],[4050.2,2.9],[4050.5,2.3],[4050.8,1.7],[4051.1,1.35],[4051.5,1.25],[4051.9,1.45],[4052.2,1.55],[4052.5,1.35],[4052.8,0.9],[4053.1,0.4],[4053.4,0.1],[4053.8,0.05],[4054.5,0.1],[4055.5,0.05],[4057,0.08],[4058.5,0.05],[4060,0.08],[4061,0.1],[4061.8,0.3],[4062.3,0.6],[4062.8,0.75],[4063.2,0.9],[4063.6,1.3],[4063.9,2.0],[4064.1,2.7],[4064.4,3.3],[4064.7,3.9],[4065,4.35],[4065.4,4.7],[4065.8,4.4],[4066.2,4.0],[4066.6,3.8],[4067,4.0],[4067.5,4.6],[4068,5.4],[4068.5,6.1],[4069,6.6],[4069.5,7.0],[4070,7.3],[4070.4,7.3],[4070.8,7.0],[4071.3,6.5],[4071.8,5.8],[4072.3,5.0],[4072.8,4.3],[4073.3,3.7],[4073.8,3.3],[4074.3,3.05],[4074.8,2.9],[4075.1,2.7],[4075.5,2.2],[4076,1.6],[4076.5,1.0],[4077,0.45],[4077.5,0.12],[4078,0.04],[4085,0.04],[4085.3,0.15],[4085.6,0.3],[4086,0.5],[4086.5,0.74],[4087,1.08],[4087.5,1.53],[4088,1.97],[4088.5,2.43],[4089,2.88],[4089.25,3.22],[4089.5,3.55],[4089.8,3.9],[4090.1,4.15],[4090.5,4.3],[4090.9,4.35],[4091.3,4.2],[4091.7,3.9],[4092.1,3.4],[4092.5,2.9],[4092.9,2.3],[4093.1,2.2],[4093.4,2.55],[4093.8,3.2],[4094.2,3.9],[4094.6,4.5],[4095,5.0],[4095.4,5.35],[4095.8,5.6],[4096.2,5.65],[4096.6,5.3],[4097,4.7],[4097.4,4.1],[4097.6,3.55],[4097.85,3.1],[4098.1,2.65],[4098.35,2.3],[4098.6,2.0],[4098.85,1.64],[4099.3,1.2],[4099.8,0.85],[4100.3,0.55],[4100.8,0.3],[4101.3,0.12],[4101.8,0.03],[4106,0.03]];

const seriesNames = ['PV production','Total consumption','Batteries','Diesel generator','PV productivity'];
const xTicks = [3940,3960,3980,4000,4020,4040,4060,4080,4100];
const yTicks = [-4,-2,0,2,4,6,8];

const xs = a => a.map(p => p[0]);
const ys = a => a.map(p => p[1]);

const traces = [
  {x: xs(pvProduction), y: ys(pvProduction), name: seriesNames[0], mode:'lines', line:{color:'#0072BD', width:2}},
  {x: xs(totalConsumption), y: ys(totalConsumption), name: seriesNames[1], mode:'lines', line:{color:'#D95319', width:2}},
  {x: xs(batteries), y: ys(batteries), name: seriesNames[2], mode:'lines', line:{color:'#EDB120', width:2, dash:'8px,3px,2px,3px'}},
  {x: xs(dieselGenerator), y: ys(dieselGenerator), name: seriesNames[3], mode:'lines', line:{color:'#7E2F8E', width:2, dash:'8px,3px,2px,3px'}},
  {x: xs(pvProductivity), y: ys(pvProductivity), name: seriesNames[4], mode:'lines', line:{color:'#000000', width:1.2, dash:'1.2px,2.5px'}}
];

const axisCommon = {
  showgrid:false, zeroline:false, showline:true, linecolor:'#262626', linewidth:1,
  mirror:'ticks', ticks:'inside', ticklen:11, tickwidth:1, tickcolor:'#262626',
  tickfont:{size:20, color:'#262626'}
};

const layout = {
  width:1200, height:477,
  margin:{l:65, r:2, t:37, b:85},
  paper_bgcolor:'#ffffff', plot_bgcolor:'#ffffff',
  font:{family:'"Liberation Sans", Arial, Helvetica, sans-serif', color:'#262626'},
  showlegend:true,
  legend:{orientation:'h', x:0.147, xanchor:'left', y:0.128, yanchor:'top',
    bgcolor:'#ffffff', bordercolor:'#6e6e6e', borderwidth:1, font:{size:18, color:'#000'}, itemwidth:30},
  xaxis: Object.assign({}, axisCommon, {range:[3938,4106], tickmode:'array', tickvals:xTicks,
    ticklabelstandoff:6}),
  yaxis: Object.assign({}, axisCommon, {range:[-4,8], tickmode:'array', tickvals:yTicks,
    ticklabelstandoff:4}),
  shapes:[{type:'circle', xref:'x', yref:'y', x0:3991.9, x1:4004.3, y0:1.37, y1:7.61,
    line:{color:'#000', width:1, dash:'7px,4px'}}],
  annotations:[
    {xref:'paper', yref:'paper', x:0, y:1, xanchor:'left', yanchor:'bottom', yshift:1, showarrow:false,
      text:'×10<sup>4</sup>', font:{size:19, color:'#262626'}},
    {xref:'paper', yref:'paper', x:0.5, y:-0.1437, xanchor:'center', yanchor:'middle', showarrow:false,
      text:'time [h]', font:{size:22, color:'#262626'}},
    {xref:'paper', yref:'paper', x:-0.0362, y:0.5, xanchor:'center', yanchor:'middle', textangle:-90, showarrow:false,
      text:'Power [W]', font:{size:22, color:'#262626'}},
    {xref:'x', yref:'y', x:3971.86, y:7.41, showarrow:false, text:'Partial shedding of the PV production',
      font:{size:17, color:'#000'}},
    {xref:'x', yref:'y', x:4021.4, y:7.24, showarrow:false, text:"<b>with the Optimizer's action</b>",
      font:{size:20, color:'#000'}},
    {xref:'x', yref:'y', axref:'x', ayref:'y', x:3996.5, y:5.02, ax:3982.15, ay:6.87, text:'',
      showarrow:true, arrowhead:2, arrowsize:2.2, arrowwidth:1.1, arrowcolor:'#000'},
    {xref:'paper', yref:'paper', x:0.4815, y:-0.2085, xanchor:'center', yanchor:'middle', showarrow:false, text:'(b)',
      font:{family:'"Liberation Serif", "Times New Roman", serif', size:19, color:'#000'}}
  ]
};

Plotly.newPlot('chart', traces, layout, {staticPlot:true, displayModeBar:false});
</script>
</body></html>
